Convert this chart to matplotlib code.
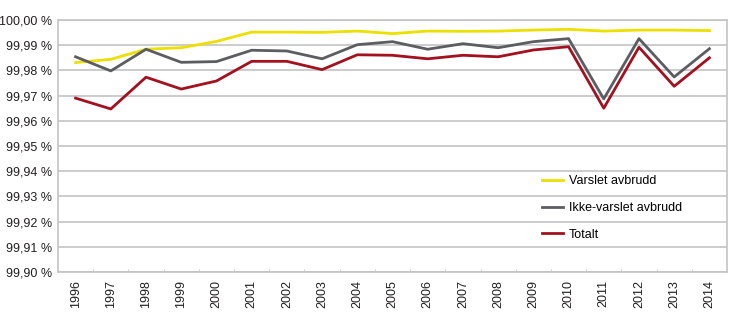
import matplotlib
matplotlib.use("Agg")
import matplotlib.pyplot as plt
from matplotlib.ticker import FuncFormatter

years = [str(y) for y in range(1996, 2015)]
varslet = [99.9831, 99.9844, 99.9884, 99.9890, 99.9915, 99.9952, 99.9952, 99.9951, 99.9956, 99.9946,
           99.9956, 99.9955, 99.9956, 99.9960, 99.9963, 99.9956, 99.9960, 99.9960, 99.9958]
ikke_varslet = [99.9854, 99.9798, 99.9884, 99.9832, 99.9835, 99.9880, 99.9877, 99.9846, 99.9902, 99.9914,
                99.9884, 99.9906, 99.9890, 99.9914, 99.9926, 99.9687, 99.9926, 99.9774, 99.9886]
totalt = [99.9690, 99.9647, 99.9773, 99.9726, 99.9758, 99.9836, 99.9836, 99.9803, 99.9862, 99.9860,
          99.9846, 99.9860, 99.9854, 99.9881, 99.9894, 99.9650, 99.9892, 99.9737, 99.9850]

plt.rcParams['font.family'] = ['Liberation Sans', 'DejaVu Sans']

fig = plt.figure(figsize=(7.3, 3.22), dpi=100)
ax = fig.add_axes([58 / 730, 1 - 272 / 322, 669 / 730, 252 / 322])

x = list(range(len(years)))
ax.plot(x, varslet, color='#ece000', lw=2, label='Varslet avbrudd')
ax.plot(x, ikke_varslet, color='#5b5d60', lw=2, label='Ikke-varslet avbrudd')
ax.plot(x, totalt, color='#a3101f', lw=2, label='Totalt')

ax.set_xlim(-0.5, len(years) - 0.5)
ax.set_ylim(99.90, 100.00)
ax.set_yticks([99.90 + i * 0.01 for i in range(11)])
ax.yaxis.set_major_formatter(FuncFormatter(lambda v, p: f"{v:.2f} %".replace('.', ',')))
ax.set_xticks(x)
ax.set_xticklabels(years, rotation=90)
ax.set_xticks([i + 0.5 for i in range(len(years) - 1)], minor=True)

ax.grid(axis='y', color='#c4c4c4', lw=1.2)
ax.set_axisbelow(True)
for s in ax.spines.values():
    s.set_color('#c4c4c4')
    s.set_linewidth(1.2)
ax.tick_params(axis='y', length=0, labelsize=9, colors='#231f20', pad=4)
ax.tick_params(axis='x', which='major', length=0, labelsize=9, colors='#231f20', pad=6)
ax.tick_params(axis='x', which='minor', length=2, direction='in', color='#c4c4c4')

ax.legend(loc='upper left', bbox_to_anchor=(0.723, 0.383), frameon=False, fontsize=9,
          handlelength=1.7, labelspacing=1.17, handletextpad=0.5,
          borderpad=0, borderaxespad=0)

fig.savefig('out.png', dpi=100)
